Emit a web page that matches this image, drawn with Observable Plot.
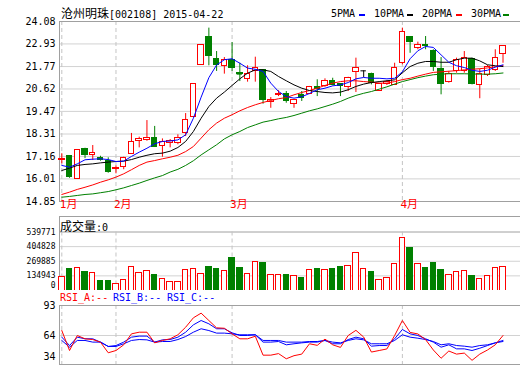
<!DOCTYPE html>
<html><head><meta charset="utf-8">
<script src="https://cdn.jsdelivr.net/npm/d3@7"></script>
<script src="https://cdn.jsdelivr.net/npm/@observablehq/plot@0.6"></script>
<style>
body{margin:0;background:#fff;}
#root{position:relative;width:520px;height:365px;overflow:hidden;background:#fff;font-family:"DejaVu Sans Mono","Noto Sans CJK SC",monospace;font-size:10px;color:#000;}
.abs{position:absolute;white-space:nowrap;line-height:12px;}
.cjk{font-family:"Noto Sans CJK SC",sans-serif;font-size:12px;}
.dash{position:absolute;height:2px;width:6px;}
.hl{position:absolute;height:1px;background:#a0a0a0;}
.vl{position:absolute;width:1px;background:#a0a0a0;}
</style></head>
<body><div id="root"></div>
<script>
// ---- data ----
const monthIdx = [0, 7, 22, 44];
const monthLabels = ["1月", "2月", "3月", "4月"];
const priceTicks = [24.08, 22.93, 21.77, 20.62, 19.47, 18.31, 17.16, 16.01, 14.85];
const volTicks = [539771, 404828, 269885, 134943];
const rsiTicks = [93, 64];

const open  = [17.00,17.16,16.00,17.52,17.25,17.09,16.95,16.51,16.61,17.30,17.94,18.01,18.12,17.71,17.84,17.86,18.37,19.17,21.86,23.28,22.18,21.81,22.12,21.42,21.14,21.52,21.57,19.94,20.33,20.35,19.84,20.29,20.37,20.71,20.75,21.04,20.85,20.70,21.50,21.55,21.40,20.54,20.88,20.83,21.94,23.31,22.73,22.90,22.59,21.65,21.00,21.52,21.55,22.17,20.83,21.35,21.60,22.42];
const close = [17.02,16.10,17.50,17.21,17.33,16.99,16.35,16.58,17.07,17.91,18.05,18.12,17.64,17.91,17.93,18.13,19.04,20.90,22.90,22.30,21.84,22.12,21.69,21.38,21.40,21.69,20.03,20.06,20.37,19.98,20.06,20.18,20.71,20.61,21.04,20.83,20.78,21.20,21.72,21.55,20.92,20.88,20.99,21.69,23.53,23.02,22.90,22.80,21.74,20.87,21.38,22.12,22.20,20.87,21.38,21.77,22.20,22.80];
const high  = [17.30,17.20,17.50,17.58,17.72,17.17,17.09,16.68,17.12,18.34,18.15,19.00,18.70,18.06,18.03,18.27,19.36,20.90,22.90,23.74,22.54,22.23,23.00,21.94,21.81,22.25,21.60,20.18,20.53,20.49,20.08,20.49,20.75,21.09,21.14,21.17,20.88,21.22,22.20,21.55,21.43,20.92,21.05,21.94,23.74,23.31,23.02,23.31,22.63,22.23,21.52,22.20,22.54,22.20,21.63,21.82,22.63,22.83];
const low   = [16.78,16.04,16.00,17.05,16.95,16.92,16.30,16.27,16.48,17.26,17.60,17.94,17.62,17.12,17.60,17.76,18.18,19.17,21.86,21.81,21.52,21.38,21.52,21.00,20.97,20.97,19.84,19.63,20.23,19.89,19.63,19.98,20.33,20.23,20.70,20.78,20.23,20.49,20.44,21.21,20.83,20.49,20.80,20.80,21.86,22.45,22.63,22.63,21.52,20.32,20.92,21.43,21.43,20.83,20.12,21.26,21.52,21.94];
const volume = [124000,200000,209000,172000,160000,84000,91000,61000,100000,215000,163000,181000,145000,106000,82000,82000,188000,197000,154000,218000,200000,181000,299000,209000,154000,263000,257000,145000,145000,145000,136000,118000,190000,200000,190000,200000,218000,227000,345000,200000,172000,100000,118000,245000,481000,390000,245000,209000,254000,190000,142000,172000,181000,136000,109000,136000,209000,218000];
const ma5  = [16.70,16.61,16.78,16.99,17.02,17.04,17.00,16.90,16.92,17.16,17.38,17.58,17.81,17.93,17.95,18.01,18.27,19.12,20.20,21.20,21.85,22.12,22.17,21.94,21.69,21.63,21.52,20.92,20.49,20.23,20.15,20.22,20.39,20.58,20.66,20.78,20.83,20.95,21.14,21.21,21.17,21.17,21.14,21.17,21.50,22.17,22.58,22.80,22.75,22.37,21.99,21.81,21.72,21.58,21.52,21.58,21.74,21.86];
const ma10 = [16.44,16.56,16.70,16.75,16.78,16.83,16.87,16.90,16.92,17.00,17.12,17.22,17.30,17.33,17.43,17.62,17.93,18.44,19.12,19.72,20.15,20.46,20.80,21.14,21.43,21.60,21.60,21.52,21.26,21.04,20.83,20.66,20.54,20.49,20.44,20.42,20.46,20.58,20.75,20.87,20.95,21.00,21.04,21.09,21.45,21.77,21.94,22.03,22.03,21.99,21.99,22.12,22.20,22.20,22.06,21.86,21.81,21.77];
const ma20 = [15.21,15.33,15.47,15.58,15.70,15.84,15.96,16.10,16.27,16.48,16.70,16.87,16.95,17.04,17.12,17.22,17.41,17.67,18.10,18.53,18.87,19.12,19.30,19.50,19.67,19.81,19.93,20.03,20.12,20.18,20.32,20.44,20.54,20.66,20.80,20.92,21.00,21.04,21.04,21.00,20.97,20.92,20.92,21.00,21.10,21.17,21.28,21.38,21.47,21.50,21.53,21.56,21.60,21.63,21.66,21.70,21.76,21.82];
const ma30 = [15.07,15.11,15.16,15.21,15.24,15.30,15.36,15.45,15.55,15.67,15.79,15.93,16.06,16.18,16.36,16.50,16.70,16.94,17.24,17.50,17.76,18.06,18.27,18.44,18.64,18.78,18.92,19.00,19.09,19.16,19.26,19.38,19.50,19.60,19.72,19.84,19.98,20.15,20.29,20.40,20.49,20.61,20.73,20.87,21.00,21.10,21.20,21.28,21.35,21.38,21.40,21.40,21.40,21.39,21.38,21.38,21.40,21.44];
const rsiA = [68.8,49.5,64,60.8,60.1,57.5,47.3,49.5,55,65.6,67.2,67.2,56.9,59.2,60.8,64.7,72,81.1,85.6,78.5,71.4,71,65.6,60.8,60.8,63.3,45,45,46.5,41.5,44.5,46,56,54.5,60.5,55,52.5,64,69,62.5,48,49.5,51,64,78.5,67,65.5,60,50,42,49,46,47,40,46,50,55,64];
const rsiB = [62.4,54.3,62.4,60.8,60.8,57.6,53.4,54.3,57.6,62.4,63.4,63.4,57.6,59.8,60.1,62.4,67.2,74.3,78.5,75.3,70.5,70.5,66.6,64,64,64.7,57.6,57.6,58.2,55,56,56.9,57.6,57.6,59.2,56,56,60.1,62.4,60.8,53.7,54.3,54.3,60.8,69.8,65.6,64,60.8,57.6,52.7,55,51.1,51.1,49.5,51.7,54.3,56.9,59.2];
const rsiC = [59.2,52.7,59.2,59.2,57.6,57.6,53.4,53.4,56,59.2,60.1,59.8,57.6,58.2,58.2,60.1,63,67.2,70.5,68.8,66.3,66.3,65.6,64.7,64.7,64.7,59.2,59.2,59.2,57.6,57.6,57.6,58.2,58.2,59.2,57.6,56.9,59.2,60.8,59.8,56,56,56,59.2,64.7,62.4,61.4,60.1,58.2,55,56,54.3,53.7,52.7,54.3,55,56.9,58.2];

// ---- build ----
const RED = "#ff0000", GREEN = "#008000", BLUE = "#0000ff", BORDER = "#a0a0a0", GRID = "#d2d2d2", DASH = "#c4c4c4";
const bars = close.map((c, i) => ({
  i, open: open[i], high: high[i], low: low[i], close: c, vol: volume[i],
  ma5: ma5[i], ma10: ma10[i], ma20: ma20[i], ma30: ma30[i],
  ra: rsiA[i], rb: rsiB[i], rc: rsiC[i]
}));
const col = d => d.close > d.open ? RED : d.close < d.open ? GREEN : "#000000";
const volCol = d => d.close >= d.open ? RED : GREEN;
const HW = 0.35;
const xScale = {type: "linear", domain: [-0.297, 59.26], axis: null};
const FONT = "'DejaVu Sans Mono','Noto Sans CJK SC',monospace";
const baseStyle = {fontFamily: FONT, fontSize: "10px", background: "transparent", color: "#000", overflow: "visible"};
const root = document.getElementById("root");

function place(el, top, left, h) {
  const w = document.createElement("div");
  w.style.cssText = `position:absolute;left:${left}px;top:${top}px;width:520px;height:${h}px;overflow:hidden;`;
  w.appendChild(el);
  root.appendChild(w);
}

// main price panel
const main = Plot.plot({
  width: 520, height: 215, marginLeft: 59, marginRight: 0, marginTop: 21, marginBottom: 14,
  x: xScale, y: {domain: [14.85, 24.08], axis: null},
  style: baseStyle,
  marks: [
    Plot.gridY(priceTicks, {stroke: GRID, strokeOpacity: 1}),
    Plot.ruleX(monthIdx, {stroke: DASH, strokeDasharray: "4,3"}),
    Plot.frame({anchor: "top", stroke: BORDER}),
    Plot.frame({anchor: "bottom", stroke: BORDER}),
    Plot.frame({anchor: "left", stroke: BORDER}),
    Plot.axisY(priceTicks, {tickSize: 0, tickPadding: 4, tickFormat: d => d.toFixed(2), label: null, fontSize: 10}),
    Plot.text(monthIdx, {x: d => d, text: (d, k) => monthLabels[k], frameAnchor: "bottom", dy: 6, dx: -2, textAnchor: "start", fill: RED, fontSize: 11}),
    Plot.ruleX(bars, {x: "i", y1: "low", y2: "high", stroke: col}),
    Plot.rect(bars, {x1: d => d.i - HW, x2: d => d.i + HW, y1: "open", y2: "close", fill: d => d.close > d.open ? "#ffffff" : GREEN, stroke: col, shapeRendering: "crispEdges"}),
    Plot.ruleY(bars.filter(d => Math.abs(d.open - d.close) < 0.05), {y: "close", x1: d => d.i - HW, x2: d => d.i + HW, stroke: col}),
    Plot.line(bars, {x: "i", y: "ma30", stroke: GREEN, strokeWidth: 1}),
    Plot.line(bars, {x: "i", y: "ma20", stroke: RED, strokeWidth: 1}),
    Plot.line(bars, {x: "i", y: "ma10", stroke: "#000000", strokeWidth: 1}),
    Plot.line(bars, {x: "i", y: "ma5", stroke: BLUE, strokeWidth: 1})
  ]
});
place(main, 0, 0, 215);

// volume panel
const vol = Plot.plot({
  width: 520, height: 74, marginLeft: 59, marginRight: 0, marginTop: 15.5, marginBottom: 0,
  x: xScale, y: {domain: [0, 539771], axis: null},
  style: baseStyle,
  marks: [
    Plot.gridY(volTicks.slice(1), {stroke: GRID, strokeOpacity: 1}),
    Plot.ruleY([539771], {stroke: BORDER}),
    Plot.ruleX(monthIdx, {stroke: DASH, strokeDasharray: "4,3"}),
    Plot.frame({anchor: "left", stroke: BORDER}),
    Plot.rect(bars, {x1: d => d.i - HW, x2: d => d.i + HW, y1: 0, y2: "vol", fill: d => volCol(d) === RED ? "#ffffff" : GREEN, stroke: volCol, shapeRendering: "crispEdges"}),
    Plot.axisY(volTicks, {tickSize: 0, tickPadding: 4, tickFormat: d => String(d), label: null, fontSize: 8}),
    Plot.text([0], {y: d => d, text: () => "0", frameAnchor: "left", textAnchor: "end", dx: -4, dy: -5, fontSize: 8})
  ]
});
place(vol, 216, 0, 74);

// RSI panel
const rsi = Plot.plot({
  width: 520, height: 75, marginLeft: 59, marginRight: 0, marginTop: 15, marginBottom: 1,
  x: xScale, y: {domain: [35.97, 93], axis: null},
  style: baseStyle,
  marks: [
    Plot.gridY([64], {stroke: GRID, strokeOpacity: 1}),
    Plot.ruleX(monthIdx, {stroke: DASH, strokeDasharray: "4,3"}),
    Plot.frame({anchor: "top", stroke: BORDER}),
    Plot.frame({anchor: "bottom", stroke: BORDER}),
    Plot.frame({anchor: "left", stroke: BORDER}),
    Plot.axisY(rsiTicks, {tickSize: 0, tickPadding: 4, tickFormat: d => String(d), label: null, fontSize: 10}),
    Plot.text(["34"], {text: d => d, frameAnchor: "bottom-left", textAnchor: "end", dx: -4, dy: -5, fontSize: 10}),
    Plot.line(bars, {x: "i", y: "rc", stroke: BLUE, strokeWidth: 1}),
    Plot.line(bars, {x: "i", y: "rb", stroke: BLUE, strokeWidth: 1}),
    Plot.line(bars, {x: "i", y: "ra", stroke: RED, strokeWidth: 1})
  ]
});
place(rsi, 290, 0, 75);

// panel borders not tied to data
function div(cls, css, html) {
  const d = document.createElement("div");
  d.className = cls; d.style.cssText = css; if (html !== undefined) d.innerHTML = html;
  root.appendChild(d); return d;
}
div("hl", "left:59px;top:216px;width:461px;");
div("vl", "left:59px;top:216px;height:16px;");

// texts
div("abs", "left:61px;top:7px;", '<span class="cjk">沧州明珠</span>[002108] 2015-04-22');
const legend = [["5PMA", 331, 359, BLUE], ["10PMA", 374, 407, "#000"], ["20PMA", 422, 456, RED], ["30PMA", 471, 503, GREEN]];
legend.forEach(([t, x, dx, c]) => {
  div("abs", `left:${x}px;top:8px;`, t);
  div("dash", `left:${dx}px;top:14px;background:${c};`);
});
div("abs", "left:60px;top:220px;", '<span class="cjk">成交量</span>:0');
div("abs", "left:60px;top:292px;color:" + RED + ";", "RSI_A:--");
div("abs", "left:113px;top:292px;color:" + BLUE + ";", "RSI_B:--");
div("abs", "left:167px;top:292px;color:" + BLUE + ";", "RSI_C:--");
</script>
</body></html>
